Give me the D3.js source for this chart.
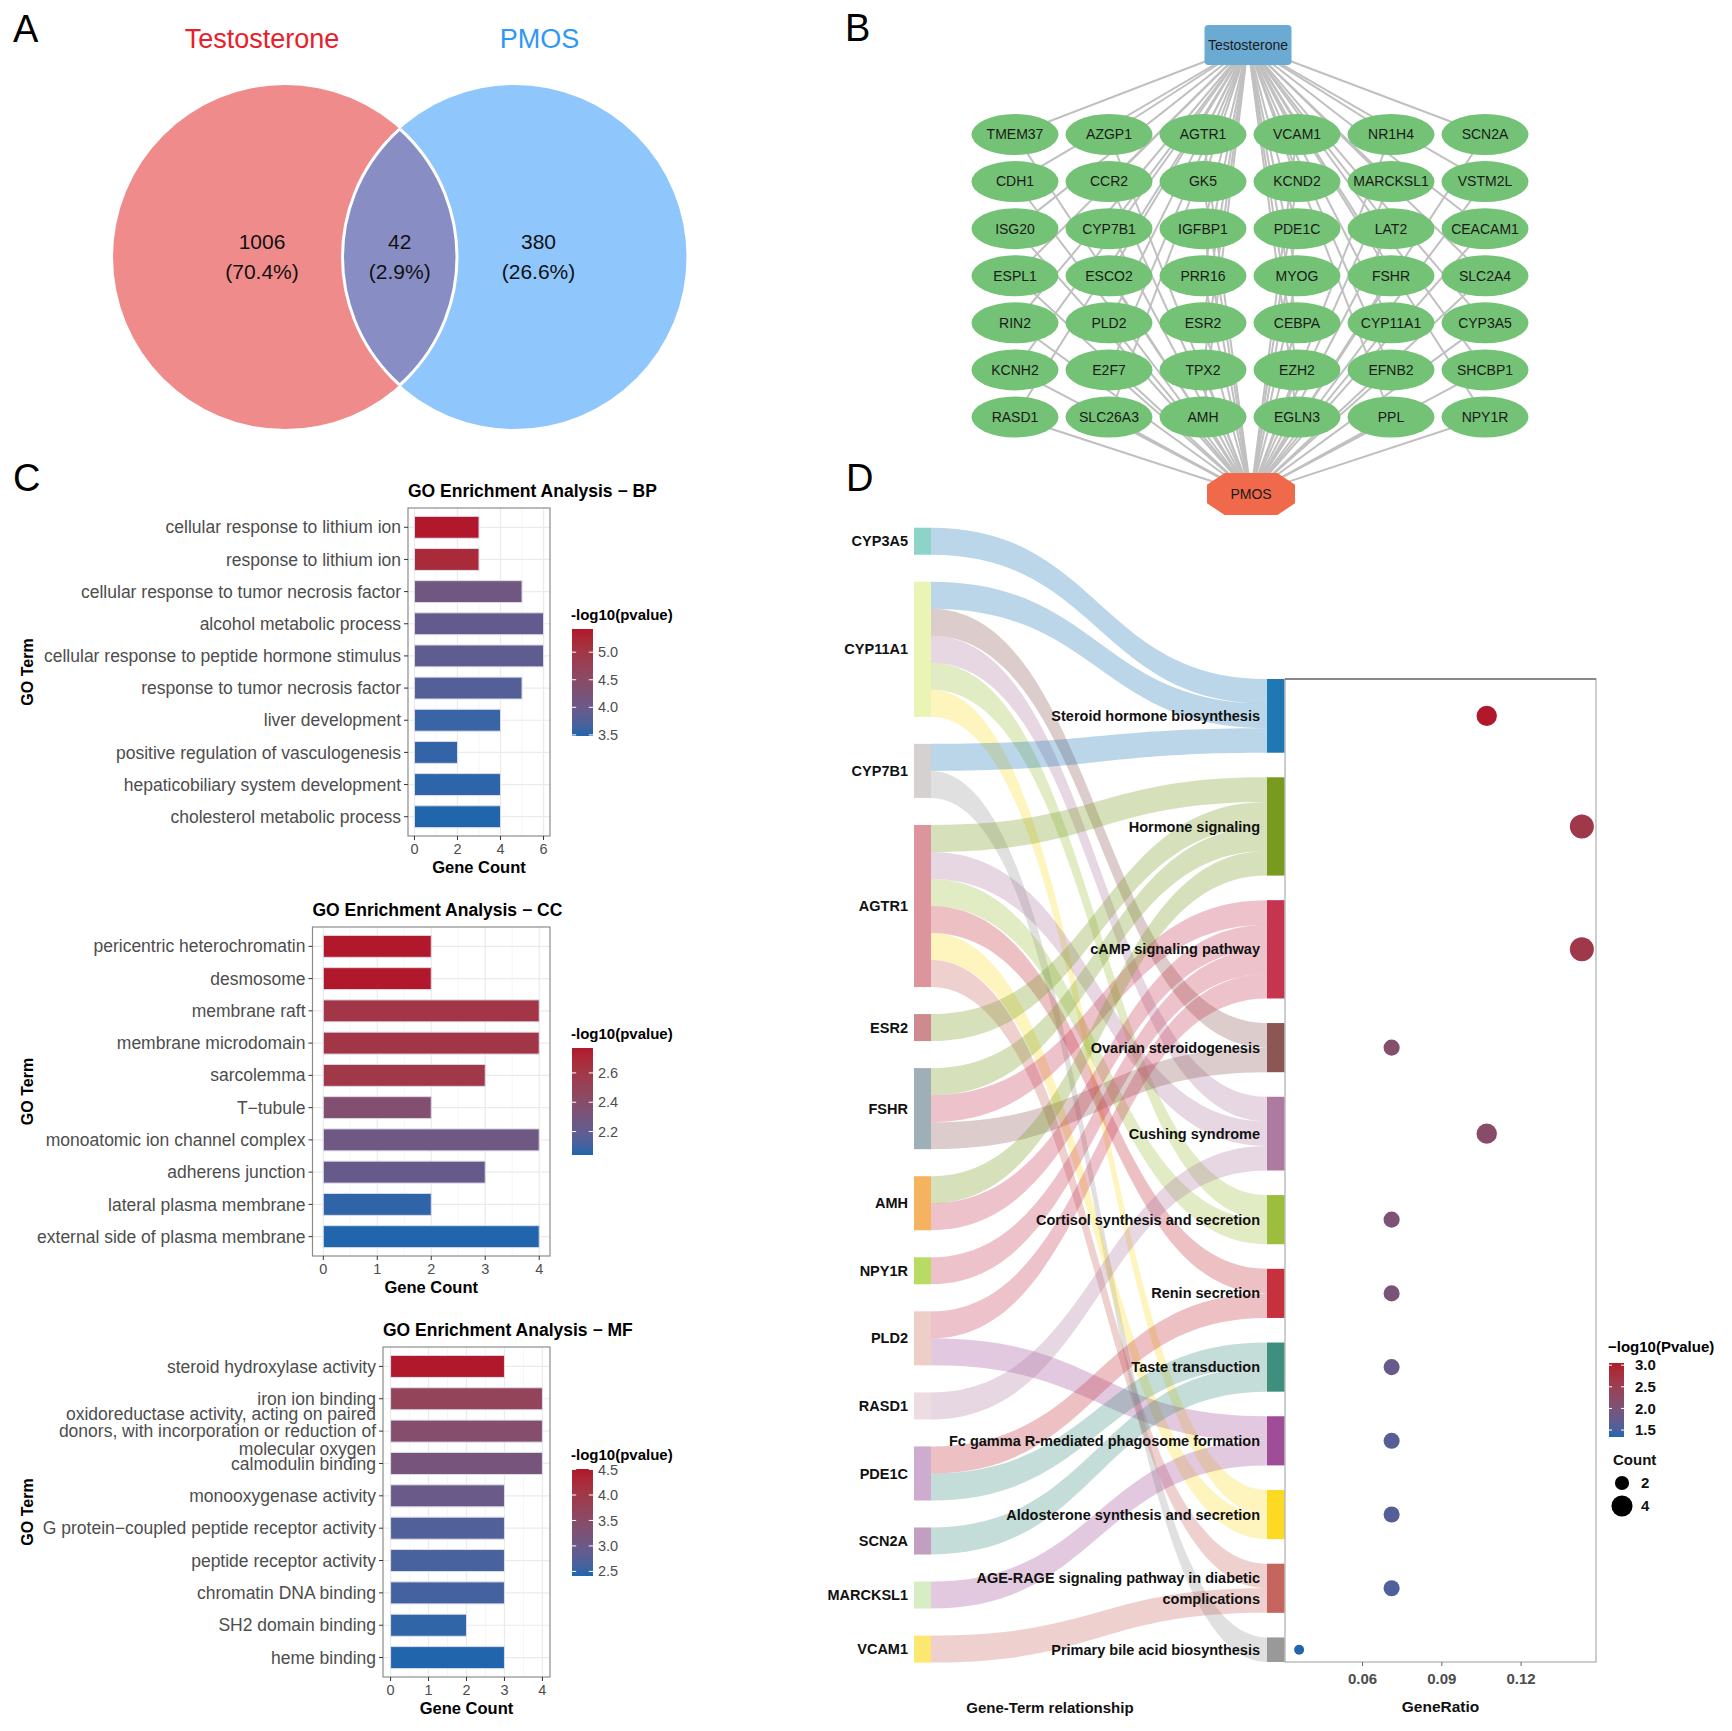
<!DOCTYPE html>
<html>
<head>
<meta charset="UTF-8">
<title>Testosterone - PMOS</title>
<script src="https://d3js.org/d3.v7.min.js"></script>
<style>
  body { margin: 0; background: #fff; }
  svg text { font-family: "Liberation Sans", Arial, Helvetica, sans-serif; }
</style>
</head>
<body>
<div id="fig"></div>
<script>
// ---------------- data ----------------
var vennSets = ["Testosterone", "PMOS"];
var vennCounts = [1006, 42, 380];
var vennPercents = ["70.4%", "2.9%", "26.6%"];

// network nodes, row by row (6 per row)
var networkGenes = [
  "TMEM37", "AZGP1", "AGTR1", "VCAM1", "NR1H4", "SCN2A",
  "CDH1", "CCR2", "GK5", "KCND2", "MARCKSL1", "VSTM2L",
  "ISG20", "CYP7B1", "IGFBP1", "PDE1C", "LAT2", "CEACAM1",
  "ESPL1", "ESCO2", "PRR16", "MYOG", "FSHR", "SLC2A4",
  "RIN2", "PLD2", "ESR2", "CEBPA", "CYP11A1", "CYP3A5",
  "KCNH2", "E2F7", "TPX2", "EZH2", "EFNB2", "SHCBP1",
  "RASD1", "SLC26A3", "AMH", "EGLN3", "PPL", "NPY1R"
];

var bpTerms = ["cellular response to lithium ion", "response to lithium ion",
  "cellular response to tumor necrosis factor", "alcohol metabolic process",
  "cellular response to peptide hormone stimulus", "response to tumor necrosis factor",
  "liver development", "positive regulation of vasculogenesis",
  "hepaticobiliary system development", "cholesterol metabolic process"];
var bpCounts = [3, 3, 5, 6, 6, 5, 4, 2, 4, 4];
var bpLogP = [5.42, 5.19, 4.08, 3.92, 3.88, 3.78, 3.58, 3.55, 3.52, 3.48];
var bpLegendTicks = [3.5, 4.0, 4.5, 5.0];

var ccTerms = ["pericentric heterochromatin", "desmosome", "membrane raft",
  "membrane microdomain", "sarcolemma", "T\u2212tubule", "monoatomic ion channel complex",
  "adherens junction", "lateral plasma membrane", "external side of plasma membrane"];
var ccCounts = [2, 2, 4, 4, 3, 2, 4, 3, 2, 4];
var ccLogP = [2.77, 2.77, 2.61, 2.61, 2.60, 2.37, 2.26, 2.22, 2.06, 2.04];
var ccLegendTicks = [2.2, 2.4, 2.6];

var mfTerms = ["steroid hydroxylase activity", "iron ion binding",
  "oxidoreductase activity, acting on paired donors, with incorporation or reduction of molecular oxygen",
  "calmodulin binding", "monooxygenase activity", "G protein\u2212coupled peptide receptor activity",
  "peptide receptor activity", "chromatin DNA binding", "SH2 domain binding", "heme binding"];
var mfCounts = [3, 4, 4, 4, 3, 3, 3, 3, 2, 3];
var mfLogP = [4.51, 3.71, 3.40, 3.17, 2.96, 2.70, 2.62, 2.60, 2.47, 2.41];
var mfLegendTicks = [2.5, 3.0, 3.5, 4.0, 4.5];

var keggGenes = ["CYP3A5", "CYP11A1", "CYP7B1", "AGTR1", "ESR2", "FSHR", "AMH",
  "NPY1R", "PLD2", "RASD1", "PDE1C", "SCN2A", "MARCKSL1", "VCAM1"];
var keggTerms = ["Steroid hormone biosynthesis", "Hormone signaling", "cAMP signaling pathway",
  "Ovarian steroidogenesis", "Cushing syndrome", "Cortisol synthesis and secretion",
  "Renin secretion", "Taste transduction", "Fc gamma R-mediated phagosome formation",
  "Aldosterone synthesis and secretion", "AGE-RAGE signaling pathway in diabetic complications",
  "Primary bile acid biosynthesis"];
var keggCounts = [3, 4, 4, 2, 3, 2, 2, 2, 2, 2, 2, 1];
var keggRatios = [0.107, 0.143, 0.143, 0.071, 0.107, 0.071, 0.071, 0.071, 0.071, 0.071, 0.071, 0.036];
var keggLogP = [3.05, 2.62, 2.62, 2.15, 2.2, 2.03, 2.0, 1.77, 1.62, 1.6, 1.56, 1.34];
var ratioTicks = [0.06, 0.09, 0.12];
var keggLegendTicks = [1.5, 2.0, 2.5, 3.0];
var countLegend = [2, 4];

var geneTermLinks = [
  ["CYP3A5", "Steroid hormone biosynthesis"],
  ["CYP11A1", "Steroid hormone biosynthesis"],
  ["CYP11A1", "Ovarian steroidogenesis"],
  ["CYP11A1", "Cushing syndrome"],
  ["CYP11A1", "Cortisol synthesis and secretion"],
  ["CYP11A1", "Aldosterone synthesis and secretion"],
  ["CYP7B1", "Steroid hormone biosynthesis"],
  ["CYP7B1", "Primary bile acid biosynthesis"],
  ["AGTR1", "Hormone signaling"],
  ["AGTR1", "Cushing syndrome"],
  ["AGTR1", "Cortisol synthesis and secretion"],
  ["AGTR1", "Renin secretion"],
  ["AGTR1", "Aldosterone synthesis and secretion"],
  ["AGTR1", "AGE-RAGE signaling pathway in diabetic complications"],
  ["ESR2", "Hormone signaling"],
  ["FSHR", "Hormone signaling"],
  ["FSHR", "cAMP signaling pathway"],
  ["FSHR", "Ovarian steroidogenesis"],
  ["AMH", "Hormone signaling"],
  ["AMH", "cAMP signaling pathway"],
  ["NPY1R", "cAMP signaling pathway"],
  ["PLD2", "cAMP signaling pathway"],
  ["PLD2", "Fc gamma R-mediated phagosome formation"],
  ["RASD1", "Cushing syndrome"],
  ["PDE1C", "Renin secretion"],
  ["PDE1C", "Taste transduction"],
  ["SCN2A", "Taste transduction"],
  ["MARCKSL1", "Fc gamma R-mediated phagosome formation"],
  ["VCAM1", "AGE-RAGE signaling pathway in diabetic complications"]
];

// palettes
var geneColors = ["#8DD3C7", "#EAF5B5", "#D5D1D1", "#DD959D", "#CD8A8F", "#9EAFB7", "#F6B35F",
  "#B7DB63", "#EDCFC7", "#EEDCE3", "#CDACCF", "#C29EC1", "#D7EDC4", "#FDE86F"];
var termColors = ["#1F78B4", "#789A1F", "#C6354F", "#8C5654", "#AD7BA0", "#9DBD3D",
  "#C5313D", "#3F8F7F", "#A04D98", "#FCD923", "#C6645E", "#999999"];
var BLUE = "#2166AC", RED = "#B2182B";

// ---------------- canvas ----------------
var W = 1732, H = 1731;
var svg = d3.select("#fig").append("svg")
    .attr("width", W)
    .attr("height", H)
    .style("background", "#fff");
var defs = svg.append("defs");

function panelLetter(txt, x, y) {
    svg.append("text").attr("x", x).attr("y", y)
        .attr("font-size", 38).attr("fill", "#000").text(txt);
}
panelLetter("A", 13, 42);
panelLetter("B", 845, 41);
panelLetter("C", 13, 491);
panelLetter("D", 846, 491);

// ---------------- A: venn ----------------
var vennR = 172, vennCy = 257, vennCx = [285, 514.5];
var vennG = svg.append("g");
defs.append("clipPath").attr("id", "clipLeft")
    .append("circle").attr("cx", vennCx[0]).attr("cy", vennCy).attr("r", vennR);
vennG.append("circle").attr("cx", vennCx[0]).attr("cy", vennCy).attr("r", vennR).attr("fill", "#F08B8B");
vennG.append("circle").attr("cx", vennCx[1]).attr("cy", vennCy).attr("r", vennR).attr("fill", "#8FC7FD");
vennG.append("circle").attr("cx", vennCx[1]).attr("cy", vennCy).attr("r", vennR)
    .attr("clip-path", "url(#clipLeft)").attr("fill", "#888EC4");
// white outline of the lens
vennG.append("circle").attr("cx", vennCx[1]).attr("cy", vennCy).attr("r", vennR)
    .attr("clip-path", "url(#clipLeft)").attr("fill", "none").attr("stroke", "#fff").attr("stroke-width", 3);
defs.append("clipPath").attr("id", "clipRight")
    .append("circle").attr("cx", vennCx[1]).attr("cy", vennCy).attr("r", vennR);
vennG.append("circle").attr("cx", vennCx[0]).attr("cy", vennCy).attr("r", vennR)
    .attr("clip-path", "url(#clipRight)").attr("fill", "none").attr("stroke", "#fff").attr("stroke-width", 3);

vennG.selectAll("text.set").data(vennSets).join("text")
    .attr("class", "set")
    .attr("x", function(d, i) { return i === 0 ? vennCx[0] - 23 : vennCx[1] + 25; })
    .attr("y", 39).attr("dy", "0.35em")
    .attr("text-anchor", "middle").attr("font-size", 27)
    .attr("fill", function(d, i) { return i === 0 ? "#E8202A" : "#2F97F5"; })
    .text(function(d) { return d; });

var lensMid = ((vennCx[1] - vennR) + (vennCx[0] + vennR)) / 2;
var regionX = [vennCx[0] - 23, lensMid, vennCx[1] + 24];
vennCounts.forEach(function(c, i) {
    vennG.append("text").attr("x", regionX[i]).attr("y", 242).attr("dy", "0.35em")
        .attr("text-anchor", "middle").attr("font-size", 21).attr("fill", "#111").text(c);
    vennG.append("text").attr("x", regionX[i]).attr("y", 272).attr("dy", "0.35em")
        .attr("text-anchor", "middle").attr("font-size", 21).attr("fill", "#111").text("(" + vennPercents[i] + ")");
});

// ---------------- B: network ----------------
var netG = svg.append("g");
var colX = d3.scalePoint().domain(d3.range(6)).range([1015, 1485]);
var rowY = d3.scalePoint().domain(d3.range(7)).range([134.5, 417]);
var hubTop = { x: 1248, y: 45 }, hubBottom = { x: 1251, y: 494 };
var netNodes = networkGenes.map(function(name, i) {
    return { name: name, x: colX(i % 6), y: rowY(Math.floor(i / 6)) };
});
netG.selectAll("line.top").data(netNodes).join("line")
    .attr("x1", hubTop.x).attr("y1", hubTop.y)
    .attr("x2", function(d) { return d.x; }).attr("y2", function(d) { return d.y; })
    .attr("stroke", "#C0C0C0").attr("stroke-width", 2);
netG.selectAll("line.bot").data(netNodes).join("line")
    .attr("x1", hubBottom.x).attr("y1", hubBottom.y)
    .attr("x2", function(d) { return d.x; }).attr("y2", function(d) { return d.y; })
    .attr("stroke", "#C0C0C0").attr("stroke-width", 2);
netG.selectAll("ellipse").data(netNodes).join("ellipse")
    .attr("cx", function(d) { return d.x; }).attr("cy", function(d) { return d.y; })
    .attr("rx", 43.5).attr("ry", 20.5).attr("fill", "#73C275");
netG.selectAll("text.gene").data(netNodes).join("text")
    .attr("x", function(d) { return d.x; }).attr("y", function(d) { return d.y; }).attr("dy", "0.35em")
    .attr("text-anchor", "middle").attr("font-size", 14).attr("fill", "#1a1a1a")
    .text(function(d) { return d.name; });

netG.append("rect").attr("x", hubTop.x - 43.5).attr("y", hubTop.y - 20).attr("width", 87).attr("height", 40)
    .attr("rx", 4).attr("fill", "#6BAAD3");
netG.append("text").attr("x", hubTop.x).attr("y", hubTop.y).attr("dy", "0.35em")
    .attr("text-anchor", "middle").attr("font-size", 14).attr("fill", "#1a1a1a").text(vennSets[0]);
var octW = 88, octH = 42;
var octPts = [[-0.3, -0.5], [0.3, -0.5], [0.5, -0.22], [0.5, 0.22], [0.3, 0.5], [-0.3, 0.5], [-0.5, 0.22], [-0.5, -0.22]]
    .map(function(p) { return [hubBottom.x + p[0] * octW, hubBottom.y + p[1] * octH]; });
netG.append("polygon").attr("points", octPts.map(function(p) { return p.join(","); }).join(" "))
    .attr("fill", "#EF694A");
netG.append("text").attr("x", hubBottom.x).attr("y", hubBottom.y).attr("dy", "0.35em")
    .attr("text-anchor", "middle").attr("font-size", 14).attr("fill", "#1a1a1a").text(vennSets[1]);

// ---------------- C: GO bar charts ----------------
var gradCount = 0;
function colorLegend(g, opt) {
    var id = "grad" + (gradCount++);
    var col = d3.scaleLinear().domain(opt.domain).range([BLUE, RED]).interpolate(d3.interpolateLab);
    var grad = defs.append("linearGradient").attr("id", id)
        .attr("x1", 0).attr("y1", 1).attr("x2", 0).attr("y2", 0);
    d3.range(0, 1.0001, 0.1).forEach(function(t) {
        grad.append("stop").attr("offset", t)
            .attr("stop-color", col(opt.domain[0] + t * (opt.domain[1] - opt.domain[0])));
    });
    var ly = d3.scaleLinear().domain(opt.domain).range([opt.y1, opt.y0]);
    g.append("text").attr("x", opt.x - 1).attr("y", opt.titleY).attr("dy", "0.35em")
        .attr("font-weight", "bold").attr("font-size", opt.titleSize).attr("fill", "#000").text(opt.title);
    g.append("rect").attr("x", opt.x).attr("y", opt.y0).attr("width", opt.w).attr("height", opt.y1 - opt.y0)
        .attr("fill", "url(#" + id + ")");
    opt.ticks.forEach(function(v) {
        g.append("line").attr("x1", opt.x).attr("x2", opt.x + opt.w * 0.2)
            .attr("y1", ly(v)).attr("y2", ly(v)).attr("stroke", "#fff").attr("stroke-width", 1);
        g.append("line").attr("x1", opt.x + opt.w * 0.8).attr("x2", opt.x + opt.w)
            .attr("y1", ly(v)).attr("y2", ly(v)).attr("stroke", "#fff").attr("stroke-width", 1);
        g.append("text").attr("x", opt.labelX).attr("y", ly(v)).attr("dy", "0.35em")
            .attr("font-size", opt.labelSize).attr("font-weight", opt.labelWeight)
            .attr("fill", opt.labelColor).text(v.toFixed(1));
    });
}

function wrapLabel(s, width) {
    var words = s.split(" "), lines = [], cur = "";
    words.forEach(function(w) {
        if (cur && (cur + " " + w).length > width) { lines.push(cur); cur = w; }
        else cur = cur ? cur + " " + w : w;
    });
    lines.push(cur);
    return lines;
}

function goBarChart(cfg) {
    var g = svg.append("g");
    var xMax = d3.max(cfg.counts);
    var x = d3.scaleLinear().domain([-0.05 * xMax, 1.05 * xMax]).range([cfg.left, cfg.right]);
    var y = d3.scalePoint().domain(cfg.terms).range([cfg.top, cfg.bottom]).padding(0.6);
    var color = d3.scaleLinear().domain(d3.extent(cfg.logp)).range([BLUE, RED]).interpolate(d3.interpolateLab);
    var majors = d3.range(0, xMax + 0.001, cfg.step);
    var minors = d3.range(cfg.step / 2, xMax + 0.001, cfg.step);

    // grid
    g.selectAll("line.minor").data(minors).join("line")
        .attr("x1", function(d) { return x(d); }).attr("x2", function(d) { return x(d); })
        .attr("y1", cfg.top).attr("y2", cfg.bottom)
        .attr("stroke", "#F4F4F4").attr("stroke-width", 0.8);
    g.selectAll("line.major").data(majors).join("line")
        .attr("x1", function(d) { return x(d); }).attr("x2", function(d) { return x(d); })
        .attr("y1", cfg.top).attr("y2", cfg.bottom)
        .attr("stroke", "#EBEBEB").attr("stroke-width", 1.2);
    g.selectAll("line.hgrid").data(cfg.terms).join("line")
        .attr("x1", cfg.left).attr("x2", cfg.right)
        .attr("y1", function(d) { return y(d); }).attr("y2", function(d) { return y(d); })
        .attr("stroke", "#EBEBEB").attr("stroke-width", 1.2);

    var bh = y.step() * 0.68;
    g.selectAll("rect.bar").data(cfg.terms).join("rect")
        .attr("x", x(0)).attr("y", function(d) { return y(d) - bh / 2; })
        .attr("width", function(d, i) { return x(cfg.counts[i]) - x(0); })
        .attr("height", bh)
        .attr("fill", function(d, i) { return color(cfg.logp[i]); })
        .attr("stroke", "#DCDCE8").attr("stroke-width", 1);

    g.append("rect").attr("x", cfg.left).attr("y", cfg.top)
        .attr("width", cfg.right - cfg.left).attr("height", cfg.bottom - cfg.top)
        .attr("fill", "none").attr("stroke", "#8C8C8C").attr("stroke-width", 1.2);

    // y axis
    g.selectAll("line.ytick").data(cfg.terms).join("line")
        .attr("x1", cfg.left - 4).attr("x2", cfg.left)
        .attr("y1", function(d) { return y(d); }).attr("y2", function(d) { return y(d); })
        .attr("stroke", "#333").attr("stroke-width", 1);
    cfg.terms.forEach(function(t) {
        var lines = wrapLabel(t, 45);
        var txt = g.append("text").attr("x", cfg.left - 7).attr("y", y(t))
            .attr("text-anchor", "end").attr("font-size", 17.5).attr("fill", "#4D4D4D");
        lines.forEach(function(l, k) {
            txt.append("tspan").attr("x", cfg.left - 7)
                .attr("y", y(t) + (k - (lines.length - 1) / 2) * 17.5)
                .attr("dy", "0.35em").text(l);
        });
    });

    // x axis
    g.selectAll("line.xtick").data(majors).join("line")
        .attr("x1", function(d) { return x(d); }).attr("x2", function(d) { return x(d); })
        .attr("y1", cfg.bottom).attr("y2", cfg.bottom + 4)
        .attr("stroke", "#333").attr("stroke-width", 1);
    g.selectAll("text.xlab").data(majors).join("text")
        .attr("x", function(d) { return x(d); }).attr("y", cfg.bottom + 13).attr("dy", "0.35em")
        .attr("text-anchor", "middle").attr("font-size", 14.5).attr("fill", "#4D4D4D")
        .text(function(d) { return d; });

    g.append("text").attr("x", cfg.left).attr("y", cfg.top - 17).attr("dy", "0.35em")
        .attr("font-weight", "bold").attr("font-size", 17.5).attr("fill", "#000").text(cfg.title);
    g.append("text").attr("x", (cfg.left + cfg.right) / 2).attr("y", cfg.bottom + 31).attr("dy", "0.35em")
        .attr("text-anchor", "middle").attr("font-weight", "bold").attr("font-size", 16.5)
        .attr("fill", "#000").text("Gene Count");
    g.append("text").attr("transform", "translate(27," + ((cfg.top + cfg.bottom) / 2) + ") rotate(-90)")
        .attr("dy", "0.35em").attr("text-anchor", "middle")
        .attr("font-weight", "bold").attr("font-size", 16).attr("fill", "#000").text("GO Term");

    colorLegend(g, {
        x: 572, w: 21, y0: cfg.legendTop, y1: cfg.legendTop + 107,
        domain: d3.extent(cfg.logp), ticks: cfg.legendTicks,
        title: "-log10(pvalue)", titleY: cfg.legendTop - 14, titleSize: 15,
        labelX: 598, labelSize: 14.5, labelWeight: "normal", labelColor: "#4D4D4D"
    });
}

goBarChart({ terms: bpTerms, counts: bpCounts, logp: bpLogP, legendTicks: bpLegendTicks,
    left: 408, right: 550, top: 508, bottom: 836, step: 2, legendTop: 629,
    title: "GO Enrichment Analysis \u2212 BP" });
goBarChart({ terms: ccTerms, counts: ccCounts, logp: ccLogP, legendTicks: ccLegendTicks,
    left: 312.5, right: 550, top: 927, bottom: 1256, step: 1, legendTop: 1048,
    title: "GO Enrichment Analysis \u2212 CC" });
goBarChart({ terms: mfTerms, counts: mfCounts, logp: mfLogP, legendTicks: mfLegendTicks,
    left: 383, right: 550, top: 1347, bottom: 1677, step: 1, legendTop: 1469,
    title: "GO Enrichment Analysis \u2212 MF" });

// ---------------- D: sankey + dot plot ----------------
var sg = svg.append("g");
var leftTop = 527.7, leftBottom = 1662.6, rightTop = 679, rightBottom = 1662;
var leftX0 = 914, leftX1 = 931, rightX0 = 1267, rightX1 = 1285;
var nLinks = geneTermLinks.length;
var uL = (leftBottom - leftTop) / (nLinks + keggGenes.length - 1);
var uR = (rightBottom - rightTop) / (nLinks + keggTerms.length - 1);

var geneLinks = keggGenes.map(function(g) {
    return geneTermLinks.filter(function(l) { return l[0] === g; })
        .sort(function(a, b) { return keggTerms.indexOf(a[1]) - keggTerms.indexOf(b[1]); });
});
var termLinks = keggTerms.map(function(t) {
    return geneTermLinks.filter(function(l) { return l[1] === t; })
        .sort(function(a, b) { return keggGenes.indexOf(a[0]) - keggGenes.indexOf(b[0]); });
});
var geneNodes = [], yy = leftTop;
keggGenes.forEach(function(g, i) {
    geneNodes.push({ name: g, y0: yy, y1: yy + geneLinks[i].length * uL });
    yy += geneLinks[i].length * uL + uL;
});
var termNodes = [];
yy = rightTop;
keggTerms.forEach(function(t, i) {
    termNodes.push({ name: t, y0: yy, y1: yy + termLinks[i].length * uR });
    yy += termLinks[i].length * uR + uR;
});

function bandPath(xa, ya0, ya1, xb, yb0, yb1) {
    var xm = (xa + xb) / 2;
    return "M" + xa + "," + ya0 + "C" + xm + "," + ya0 + " " + xm + "," + yb0 + " " + xb + "," + yb0 +
        "L" + xb + "," + yb1 + "C" + xm + "," + yb1 + " " + xm + "," + ya1 + " " + xa + "," + ya1 + "Z";
}

var bands = geneTermLinks.map(function(l) {
    var gi = keggGenes.indexOf(l[0]), ti = keggTerms.indexOf(l[1]);
    var si = geneLinks[gi].indexOf(l), sj = termLinks[ti].indexOf(l);
    var a0 = geneNodes[gi].y0 + si * uL, b0 = termNodes[ti].y0 + sj * uR;
    return { ti: ti, d: bandPath(leftX1, a0, a0 + uL, rightX0, b0, b0 + uR) };
});
sg.selectAll("path.band").data(bands).join("path")
    .attr("d", function(d) { return d.d; })
    .attr("fill", function(d) { return termColors[d.ti]; })
    .attr("fill-opacity", 0.3);

sg.selectAll("rect.gnode").data(geneNodes).join("rect")
    .attr("x", leftX0).attr("width", leftX1 - leftX0)
    .attr("y", function(d) { return d.y0; }).attr("height", function(d) { return d.y1 - d.y0; })
    .attr("fill", function(d, i) { return geneColors[i]; });
sg.selectAll("text.gname").data(geneNodes).join("text")
    .attr("x", leftX0 - 6).attr("y", function(d) { return (d.y0 + d.y1) / 2; }).attr("dy", "0.35em")
    .attr("text-anchor", "end").attr("font-weight", "bold").attr("font-size", 14.5).attr("fill", "#111")
    .text(function(d) { return d.name; });

sg.selectAll("rect.tnode").data(termNodes).join("rect")
    .attr("x", rightX0).attr("width", rightX1 - rightX0)
    .attr("y", function(d) { return d.y0; }).attr("height", function(d) { return d.y1 - d.y0; })
    .attr("fill", function(d, i) { return termColors[i]; });
termNodes.forEach(function(n) {
    var lines = n.name.length > 45 ? [n.name.slice(0, n.name.lastIndexOf(" ")), n.name.slice(n.name.lastIndexOf(" ") + 1)] : [n.name];
    var c = (n.y0 + n.y1) / 2;
    lines.forEach(function(l, k) {
        sg.append("text").attr("x", 1260).attr("y", c + (k - (lines.length - 1) / 2) * 21.5).attr("dy", "0.35em")
            .attr("text-anchor", "end").attr("font-weight", "bold").attr("font-size", 14.5).attr("fill", "#111")
            .text(l);
    });
});
sg.append("text").attr("x", 1050).attr("y", 1708).attr("dy", "0.35em").attr("text-anchor", "middle")
    .attr("font-weight", "bold").attr("font-size", 15).attr("fill", "#111").text("Gene-Term relationship");

// dot plot
var dotLeft = 1285, dotRight = 1596;
var rExt = d3.extent(keggRatios), rPad = (rExt[1] - rExt[0]) * 0.05;
var xr = d3.scaleLinear().domain([rExt[0] - rPad, rExt[1] + rPad]).range([dotLeft, dotRight]);
var dotColor = d3.scaleLinear().domain(d3.extent(keggLogP)).range([BLUE, RED]).interpolate(d3.interpolateLab);
var areaScale = d3.scaleLinear().domain(d3.extent(keggCounts)).range([25, 144]);
function dotR(c) { return Math.sqrt(areaScale(c)); }

sg.append("rect").attr("x", dotLeft).attr("y", rightTop).attr("width", dotRight - dotLeft)
    .attr("height", rightBottom - rightTop).attr("fill", "none").attr("stroke", "#BDBDBD").attr("stroke-width", 1.5);
sg.append("line").attr("x1", dotLeft).attr("x2", dotRight).attr("y1", rightTop).attr("y2", rightTop)
    .attr("stroke", "#444").attr("stroke-width", 1);
sg.selectAll("circle.dot").data(termNodes).join("circle")
    .attr("cx", function(d, i) { return xr(keggRatios[i]); })
    .attr("cy", function(d) { return (d.y0 + d.y1) / 2; })
    .attr("r", function(d, i) { return dotR(keggCounts[i]); })
    .attr("fill", function(d, i) { return dotColor(keggLogP[i]); });
sg.selectAll("line.rtick").data(ratioTicks).join("line")
    .attr("x1", function(d) { return xr(d); }).attr("x2", function(d) { return xr(d); })
    .attr("y1", rightBottom).attr("y2", rightBottom + 4)
    .attr("stroke", "#666").attr("stroke-width", 1);
sg.selectAll("text.rlab").data(ratioTicks).join("text")
    .attr("x", function(d) { return xr(d); }).attr("y", 1679).attr("dy", "0.35em")
    .attr("text-anchor", "middle").attr("font-weight", "bold").attr("font-size", 15).attr("fill", "#4D4D4D")
    .text(function(d) { return d.toFixed(2); });
sg.append("text").attr("x", (dotLeft + dotRight) / 2).attr("y", 1707).attr("dy", "0.35em")
    .attr("text-anchor", "middle").attr("font-weight", "bold").attr("font-size", 15.5).attr("fill", "#111")
    .text("GeneRatio");

colorLegend(sg, {
    x: 1609, w: 15, y0: 1363, y1: 1437,
    domain: d3.extent(keggLogP), ticks: keggLegendTicks,
    title: "\u2212log10(Pvalue)", titleY: 1347, titleSize: 15,
    labelX: 1635, labelSize: 15, labelWeight: "bold", labelColor: "#111"
});
sg.append("text").attr("x", 1613).attr("y", 1460).attr("dy", "0.35em")
    .attr("font-weight", "bold").attr("font-size", 15).attr("fill", "#111").text("Count");
var countY = d3.scalePoint().domain(countLegend).range([1483, 1506]);
sg.selectAll("circle.leg").data(countLegend).join("circle")
    .attr("cx", 1622).attr("cy", function(d) { return countY(d); })
    .attr("r", function(d) { return dotR(d) * 0.88; }).attr("fill", "#000");
sg.selectAll("text.leg").data(countLegend).join("text")
    .attr("x", 1641).attr("y", function(d) { return countY(d); }).attr("dy", "0.35em")
    .attr("font-weight", "bold").attr("font-size", 15).attr("fill", "#111").text(function(d) { return d; });
</script>
</body>
</html>
